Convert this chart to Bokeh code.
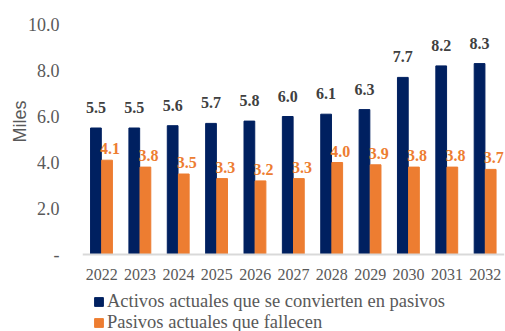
from bokeh.plotting import figure
from bokeh.models import ColumnDataSource, FactorRange, FixedTicker, Legend, LegendItem, Range1d, Title
from bokeh.transform import dodge
from bokeh.core.properties import value
from bokeh.embed import file_html
from bokeh.resources import INLINE

years = ["2022", "2023", "2024", "2025", "2026", "2027", "2028", "2029", "2030", "2031", "2032"]
activos = [5.5, 5.5, 5.6, 5.7, 5.8, 6.0, 6.1, 6.3, 7.7, 8.2, 8.3]
pasivos = [4.1, 3.8, 3.5, 3.3, 3.2, 3.3, 4.0, 3.9, 3.8, 3.8, 3.7]
serie_activos = "Activos actuales que se convierten en pasivos"
serie_pasivos = "Pasivos actuales que fallecen"
y_ticks = [0, 2, 4, 6, 8, 10]
y_tick_labels = ["-", "2.0", "4.0", "6.0", "8.0", "10.0"]
y_title = "Miles"

NAVY = "#002060"
ORANGE = "#ED7D31"
GREY_TXT = "#595959"
SERIF = "Liberation Serif"

# 23 px per unit; the area below zero holds the year labels and the legend
PX_PER_UNIT = 23.0
FRAME_H = 307
y_bottom = 10 - FRAME_H / PX_PER_UNIT

src = ColumnDataSource(dict(
    year=years,
    activos=activos,
    pasivos=pasivos,
    activos_lbl=[f"{v:.1f}" for v in activos],
    pasivos_lbl=[f"{v:.1f}" for v in pasivos],
))

p = figure(
    x_range=FactorRange(*years), y_range=Range1d(y_bottom, 10),
    frame_width=422, frame_height=FRAME_H, output_backend="svg", toolbar_location=None,
    min_border_left=82, min_border_right=1, min_border_top=24, min_border_bottom=0,
)
p.outline_line_color = None
p.background_fill_color = "white"
p.border_fill_color = "white"
p.xgrid.grid_line_color = None
p.ygrid.grid_line_color = None

r1 = p.vbar(x=dodge("year", -0.15, range=p.x_range), top="activos", width=0.28,
            source=src, color=NAVY)
r2 = p.vbar(x=dodge("year", 0.14, range=p.x_range), top="pasivos", width=0.28,
            source=src, color=ORANGE)

p.text(x=dodge("year", -0.15, range=p.x_range), y="activos", text="activos_lbl",
       source=src, text_align="center", text_baseline="bottom", y_offset=-15,
       text_font=value(SERIF), text_font_style="bold", text_font_size="16px",
       text_color="#404040")
p.text(x=dodge("year", 0.22, range=p.x_range), y="pasivos", text="pasivos_lbl",
       source=src, text_align="center", text_baseline="bottom", y_offset=-6,
       text_font=value(SERIF), text_font_style="bold", text_font_size="16px",
       text_color=ORANGE)

# y axis
p.yaxis.ticker = FixedTicker(ticks=y_ticks)
p.yaxis.major_label_overrides = {t: l for t, l in zip(y_ticks, y_tick_labels)}
p.yaxis.axis_line_color = None
p.yaxis.major_tick_line_color = None
p.yaxis.minor_tick_line_color = None
p.yaxis.major_label_standoff = 17
p.yaxis.major_label_text_font = SERIF
p.yaxis.major_label_text_font_size = "18px"
p.yaxis.major_label_text_color = GREY_TXT

# vertical unit title, aligned with the upper part of the value scale
p.add_layout(Title(text=y_title, align="right", offset=76, standoff=-10,
                   text_font="Liberation Sans", text_font_style="normal",
                   text_font_size="18px", text_color=GREY_TXT), "left")

# x axis, drawn along zero
p.xaxis.fixed_location = 0
p.xaxis.axis_line_color = "#d9d9d9"
p.xaxis.axis_line_width = 2
p.xaxis.major_tick_line_color = None
p.xaxis.minor_tick_line_color = None
p.xaxis.major_label_standoff = 8
p.xaxis.major_label_text_font = SERIF
p.xaxis.major_label_text_font_size = "16px"
p.xaxis.major_label_text_color = GREY_TXT

legend = Legend(
    items=[LegendItem(label=serie_activos, renderers=[r1]),
           LegendItem(label=serie_pasivos, renderers=[r2])],
    location=(11, -2), orientation="vertical",
    glyph_width=11, glyph_height=11, spacing=0, padding=0, margin=0,
    label_text_font=SERIF, label_text_font_size="18.5px", label_text_color=GREY_TXT,
    label_standoff=3, label_height=19, border_line_color=None,
    background_fill_alpha=0,
)
p.add_layout(legend, "center")

open("out.html", "w").write(file_html(p, INLINE))
